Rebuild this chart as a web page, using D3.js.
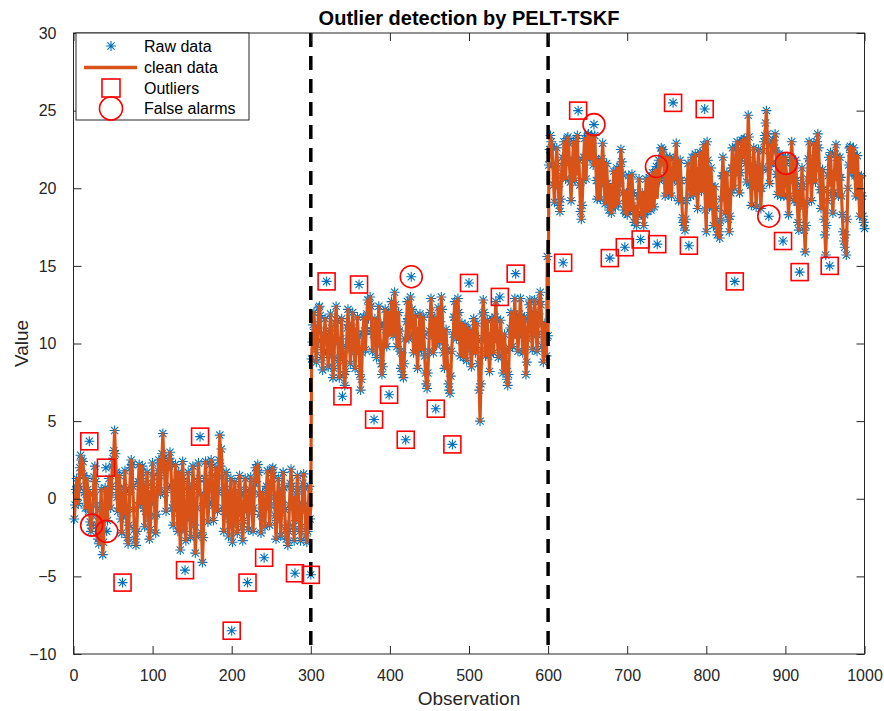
<!DOCTYPE html>
<html>
<head>
<meta charset="utf-8">
<script src="https://cdn.jsdelivr.net/npm/d3@7"></script>
<style>
  body { margin: 0; background: #fff; }
  svg { display: block; font-family: "Liberation Sans", Arial, Helvetica, sans-serif; }
</style>
</head>
<body>
<svg id="chart" width="884" height="711"></svg>
<script>
// ---------------- DATA ----------------
// Raw observations, segment 1 (obs 1..300)
const rawSeg1 = [
-1.3,-0.4,0.6,1.3,0.7,-0.3,0.8,2.0,2.8,2.5,1.6,2.4,1.5,0.4,-0.6,0.3,1.3,0.6,-0.8,3.7,
-1.5,-2.1,-1.7,-1.1,0.3,1.4,2.1,1.1,-0.4,-1.7,-2.6,-2.9,-2.2,-0.7,0.6,-1.9,-3.6,-2.8,-1.1,0.7,
2.0,-2.1,-1.4,0.3,1.3,0.4,-0.6,0.8,2.1,2.6,3.1,4.4,2.9,1.7,0.1,-0.8,0.6,1.5,0.3,-1.3,
-2.2,-5.4,-1.0,0.7,1.8,0.6,-1.1,-2.5,-2.9,-1.7,0.4,2.0,2.5,2.2,0.8,-0.7,-2.0,-2.6,-3.0,-2.1,
-0.4,1.1,2.2,1.0,-0.3,1.3,2.1,0.8,-0.6,-1.8,-0.8,0.7,1.7,0.3,-1.3,-2.6,-2.0,-0.3,1.0,2.3,
1.4,0.1,-1.1,-2.2,-1.0,0.6,1.8,2.5,1.5,0.3,2.2,2.9,4.2,2.6,2.0,0.4,-0.8,0.7,2.3,2.6,
2.1,3.0,2.4,0.8,-0.6,-1.7,-0.4,1.1,2.2,1.0,-0.7,-2.1,1.7,-1.1,-3.3,-1.4,1.3,2.4,1.1,-2.1,
-4.6,-2.7,-0.8,0.7,1.7,0.4,-1.3,-2.5,-1.1,0.6,2.1,0.8,-1.7,-3.5,-2.4,-0.6,1.1,2.3,1.3,4.0,
0.3,-2.2,-4.1,-2.5,-0.3,1.3,2.4,1.1,-0.4,-1.5,-0.3,1.0,2.2,2.5,1.5,-0.1,-1.4,-0.4,0.8,2.0,
0.7,-0.8,0.4,2.5,4.1,2.1,3.2,1.4,-0.6,-2.1,-0.8,0.6,1.7,0.4,-1.1,-2.4,-1.3,0.3,1.3,-8.5,
-2.8,-1.7,0.1,1.1,-0.1,-1.3,-2.2,-1.0,0.4,1.5,0.6,-0.7,-1.8,-2.7,-1.4,0.3,1.3,0.1,-0.8,-5.4,
-2.0,-0.7,0.6,1.4,0.4,-0.8,-2.1,-0.6,1.0,2.0,1.1,1.8,2.2,1.7,0.3,-1.0,-2.2,-1.1,0.4,-0.7,
-3.8,-1.8,-0.3,0.8,1.8,0.7,-0.6,-1.7,-0.4,1.1,1.9,2.0,1.5,0.1,-1.1,-2.6,-1.4,0.3,1.3,0.1,
-1.1,-2.4,-0.8,0.6,1.7,0.7,-0.7,-2.0,-2.6,-1.7,-3.0,-2.1,-0.4,1.0,1.9,0.8,-0.6,-1.8,-2.7,-4.8,
-1.4,0.3,1.5,0.6,-0.8,-2.1,-2.7,-1.8,-0.3,1.0,1.6,0.7,-0.8,-2.4,-2.8,-2.1,-0.4,0.8,-1.3,-4.9
];
// segment 2 (obs 301..600)
const rawSeg2 = [
9.0,10.1,11.2,12.0,10.9,9.6,8.8,9.9,11.0,12.3,12.4,11.8,10.2,9.1,8.3,9.4,10.6,11.6,10.5,14.0,
9.5,8.5,9.6,10.8,11.9,11.0,9.2,7.8,8.4,10.1,11.3,12.4,11.5,10.2,8.9,7.8,9.1,10.3,11.6,6.6,
9.4,8.0,7.3,8.2,9.8,11.0,12.2,11.2,9.9,8.7,9.7,11.0,12.0,10.8,9.5,8.4,9.5,10.6,11.7,10.5,
13.8,8.0,7.0,7.7,9.4,10.6,11.7,10.8,9.6,10.8,11.9,12.8,11.6,12.5,13.0,12.4,10.8,9.5,10.6,5.1,
11.6,10.3,9.1,10.2,11.3,12.4,11.2,9.9,8.7,8.0,8.5,9.9,11.2,12.2,10.9,9.8,10.9,12.0,6.7,10.8,
11.9,12.7,11.7,10.5,12.0,13.3,12.5,11.0,9.8,10.9,12.0,10.8,9.5,8.4,9.4,8.0,7.8,8.7,10.3,3.8,
11.4,12.7,11.6,10.3,11.3,13.0,14.3,12.2,10.6,9.4,10.5,11.8,10.6,9.5,8.4,9.6,10.8,11.9,10.8,9.6,
10.6,11.7,10.5,9.2,8.1,7.4,7.1,8.1,9.5,10.8,12.0,12.9,11.7,10.5,9.4,10.5,11.6,5.8,9.9,11.2,
12.3,11.2,10.1,11.4,13.0,12.2,10.6,9.4,8.4,9.7,10.9,9.6,8.5,7.4,7.0,6.8,7.9,9.5,3.5,10.6,
11.7,12.7,11.5,10.3,11.9,12.9,12.0,10.5,9.2,10.2,11.3,10.2,9.1,10.1,11.2,10.1,8.9,9.9,11.0,13.9,
10.8,9.6,8.5,9.5,10.6,11.6,10.5,9.4,10.3,11.3,10.2,8.7,7.0,5.0,7.4,9.6,11.9,12.8,12.0,10.5,
9.2,10.3,11.5,10.3,9.2,8.2,9.4,10.5,11.6,10.5,9.4,10.6,11.7,12.7,11.5,10.2,9.1,10.3,13.0,11.5,
10.3,9.2,8.1,9.4,10.6,9.5,8.4,7.7,7.3,8.0,9.7,11.0,12.0,10.9,9.8,10.8,11.9,12.9,14.5,11.7,
10.6,9.5,10.8,11.9,12.9,11.7,10.5,9.4,10.6,11.7,10.5,8.0,8.8,10.3,11.5,12.5,12.8,12.0,10.8,9.6,
10.8,12.0,12.8,11.9,10.6,9.5,10.6,11.9,12.7,13.3,12.5,11.2,9.8,8.8,10.1,11.3,10.2,9.2,15.6,10.5
];
// segment 3 (obs 601..1000)
const rawSeg3 = [
21.5,22.5,23.4,23.0,22.7,21.5,20.2,19.1,20.4,21.6,22.6,21.3,20.1,18.9,18.5,19.3,20.8,22.0,15.2,23.0,
21.9,20.6,21.9,23.2,23.3,22.9,21.6,20.4,19.2,20.5,21.8,23.0,21.8,20.5,21.8,23.2,23.4,25.0,21.8,20.2,
18.5,18.0,18.9,20.5,22.0,23.2,22.0,20.6,22.0,23.4,23.5,23.0,21.9,23.1,23.4,22.9,21.5,24.1,23.4,21.9,
20.5,19.3,20.5,21.8,20.6,19.3,20.6,21.9,22.9,21.6,20.3,19.0,20.3,21.6,20.3,19.2,18.6,15.5,19.0,18.4,
18.8,20.0,21.1,20.0,18.8,20.1,21.3,20.1,19.0,20.3,21.4,22.5,21.7,20.9,19.7,18.6,16.2,18.4,19.7,18.3,
19.7,20.8,19.7,18.6,19.7,20.9,19.7,18.5,17.8,18.8,18.0,17.6,18.3,19.5,20.6,19.5,16.7,18.3,19.7,18.5,
17.6,18.3,19.5,20.6,19.5,18.5,19.6,20.7,19.7,18.6,19.9,21.0,20.0,18.8,20.1,21.2,21.4,16.4,20.7,21.8,
20.5,21.6,22.6,22.4,22.5,21.9,20.6,19.5,20.8,22.0,20.9,19.7,20.9,22.0,20.8,19.5,20.8,25.5,21.9,20.6,
21.8,22.9,21.6,20.4,19.2,20.5,21.8,20.5,19.2,18.1,17.8,17.6,17.3,18.0,19.2,20.5,21.6,16.3,20.6,19.5,
20.8,22.0,20.9,19.6,20.9,22.2,21.0,19.8,18.7,19.9,21.2,22.3,21.1,19.8,21.1,22.3,22.8,25.1,18.6,17.2,
23.0,21.8,20.2,18.8,20.1,21.3,20.1,18.8,17.6,18.8,20.1,18.7,17.5,17.0,17.6,17.2,16.8,17.9,19.3,20.8,
22.0,20.8,19.5,18.4,19.7,21.0,19.7,18.0,17.2,18.2,19.7,21.3,22.6,21.3,20.0,14.0,21.3,22.6,23.0,22.4,
21.0,19.7,21.0,22.3,23.1,22.0,23.1,23.2,22.9,21.6,20.4,22.0,24.7,23.3,21.5,20.2,18.9,20.2,21.5,22.6,
21.4,20.1,18.8,20.1,21.4,22.5,21.3,20.0,18.7,20.0,21.3,22.4,23.0,23.4,24.2,25.0,23.5,21.2,18.2,20.3,
21.6,22.8,21.6,23.0,23.1,22.6,23.5,22.4,20.9,19.6,20.9,22.2,20.9,19.5,20.8,22.0,16.6,19.5,20.8,22.0,
21.6,20.8,19.5,18.3,19.5,20.8,22.0,23.0,21.8,20.5,19.2,20.5,21.8,20.5,19.1,17.8,17.3,14.6,18.9,20.1,
21.3,20.1,18.8,17.3,15.9,17.6,19.1,20.6,21.9,23.0,21.8,20.5,19.2,20.5,21.8,22.9,21.6,20.4,21.6,23.0,
23.5,22.6,21.2,19.9,18.7,19.9,21.2,19.9,18.0,17.0,15.7,17.6,19.2,20.8,22.0,15.0,22.3,21.0,19.7,18.4,
19.7,21.0,22.2,22.8,22.0,20.7,19.5,20.7,22.0,20.7,19.5,18.3,17.2,16.6,16.2,17.0,15.7,18.0,20.0,21.5,
22.6,22.7,22.3,21.0,22.3,22.6,22.1,20.8,19.5,20.8,22.1,20.8,19.5,18.2,19.5,20.8,19.5,18.2,17.8,17.4
];
// Detected outliers (observation index) and the cleaned value that replaces them
const outlierObs = [20,41,62,141,160,200,220,241,280,300,
  320,340,361,380,399,420,458,479,500,539,559,
  619,638,678,697,717,738,758,778,798,836,897,918,956];
const outlierClean = [0.5,-0.2,0.3,-0.6,0.4,-0.3,0.2,-0.4,0.1,-0.5,
  10.4,9.8,10.2,9.9,10.5,10.1,9.7,10.3,10.6,10.0,10.4,
  20.6,20.9,20.2,19.8,19.5,19.4,20.5,19.9,20.3,20.1,20.4,19.8,20.2];
// False alarms (observation index) and their cleaned value
const falseAlarmObs = [23,42,427,658,737,879,901];
const falseAlarmClean = [-1.2,-0.8,11.6,22.6,20.2,20.4,21.1];
// Detected change points
const changePoints = [300,600];
// Axis ticks
const xTicks = [0,100,200,300,400,500,600,700,800,900,1000];
const yTicks = [-10,-5,0,5,10,15,20,25,30];
const legendLabels = ["Raw data","clean data","Outliers","False alarms"];

// ---------------- BUILD ----------------
const raw = rawSeg1.concat(rawSeg2, rawSeg3).map((v, i) => ({x: i + 1, y: v}));
const cleanMap = new Map();
outlierObs.forEach((o, i) => cleanMap.set(o, outlierClean[i]));
falseAlarmObs.forEach((o, i) => cleanMap.set(o, falseAlarmClean[i]));
const clean = raw.map(d => ({x: d.x, y: cleanMap.has(d.x) ? cleanMap.get(d.x) : d.y}));

const BLUE = "#0072BD", ORANGE = "#D95319", RED = "#FF0000", AX = "#262626";
const L = 73.5, R = 864.5, T = 33, B = 654;
const svg = d3.select("#chart");
svg.append("rect").attr("width", 884).attr("height", 711).attr("fill", "#fff");

const xs = d3.scaleLinear().domain([0, 1000]).range([L, R]);
const ys = d3.scaleLinear().domain([-10, 30]).range([B, T]);

function asterisk(cx, cy, r) {
  const d = r * 0.72;
  return `M${cx - r},${cy}L${cx + r},${cy}M${cx},${cy - r}L${cx},${cy + r}` +
         `M${cx - d},${cy - d}L${cx + d},${cy + d}M${cx - d},${cy + d}L${cx + d},${cy - d}`;
}

const plot = svg.append("g");
// raw asterisks
plot.append("g").selectAll("path").data(raw).join("path")
  .attr("d", d => asterisk(xs(d.x), ys(d.y), 5))
  .attr("stroke", BLUE).attr("stroke-width", 1.1).attr("fill", "none");
// clean line
plot.append("path").datum(clean)
  .attr("d", d3.line().x(d => xs(d.x)).y(d => ys(d.y)))
  .attr("fill", "none").attr("stroke", ORANGE).attr("stroke-width", 3.2)
  .attr("stroke-linejoin", "round");
// change points
plot.append("g").selectAll("line").data(changePoints).join("line")
  .attr("x1", d => xs(d)).attr("x2", d => xs(d))
  .attr("y1", ys(30)).attr("y2", ys(-10))
  .attr("stroke", "#000").attr("stroke-width", 3.5).attr("stroke-dasharray", "14,9");
// outliers squares
const rawAt = o => raw[o - 1].y;
plot.append("g").selectAll("rect").data(outlierObs).join("rect")
  .attr("x", d => xs(d) - 8.5).attr("y", d => ys(rawAt(d)) - 8.5)
  .attr("width", 17).attr("height", 17)
  .attr("fill", "none").attr("stroke", RED).attr("stroke-width", 1.6);
// false alarm circles
plot.append("g").selectAll("circle").data(falseAlarmObs).join("circle")
  .attr("cx", d => xs(d)).attr("cy", d => ys(rawAt(d))).attr("r", 11)
  .attr("fill", "none").attr("stroke", RED).attr("stroke-width", 1.6);

// axes
function styleAxis(g) {
  g.select(".domain").remove();
  g.selectAll("line").attr("stroke", AX).attr("stroke-width", 1);
  g.selectAll("text").attr("fill", AX).attr("font-size", 16);
}
svg.append("g").attr("transform", `translate(0,${B})`)
  .call(d3.axisBottom(xs).tickValues(xTicks).tickFormat(d3.format("d")).tickSizeInner(-8).tickSizeOuter(0).tickPadding(16))
  .call(styleAxis);
svg.append("g").attr("transform", `translate(0,${T})`)
  .call(d3.axisTop(xs).tickValues(xTicks).tickFormat("").tickSizeInner(-8).tickSizeOuter(0))
  .call(styleAxis);
svg.append("g").attr("transform", `translate(${L},0)`)
  .call(d3.axisLeft(ys).tickValues(yTicks).tickFormat(d3.format("d")).tickSizeInner(-8).tickSizeOuter(0).tickPadding(17))
  .call(styleAxis);
svg.append("g").attr("transform", `translate(${R},0)`)
  .call(d3.axisRight(ys).tickValues(yTicks).tickFormat("").tickSizeInner(-8).tickSizeOuter(0))
  .call(styleAxis);
// box
svg.append("rect").attr("x", L).attr("y", T).attr("width", R - L).attr("height", B - T)
  .attr("fill", "none").attr("stroke", AX).attr("stroke-width", 1);

// titles
svg.append("text").attr("x", (L + R) / 2).attr("y", 25).attr("text-anchor", "middle")
  .attr("font-size", 20).attr("font-weight", "bold").attr("fill", "#000")
  .text("Outlier detection by PELT-TSKF");
svg.append("text").attr("x", (L + R) / 2).attr("y", 705).attr("text-anchor", "middle")
  .attr("font-size", 19).attr("fill", AX).text("Observation");
svg.append("text").attr("transform", `translate(28,${(T + B) / 2}) rotate(-90)`)
  .attr("text-anchor", "middle").attr("font-size", 19).attr("fill", AX).text("Value");

// legend
const lg = svg.append("g");
lg.append("rect").attr("x", 76).attr("y", 33).attr("width", 173).attr("height", 87)
  .attr("fill", "#fff").attr("stroke", AX).attr("stroke-width", 1);
const rowsY = [46, 67.5, 88, 108.5];
lg.append("path").attr("d", asterisk(111, rowsY[0], 5))
  .attr("stroke", BLUE).attr("stroke-width", 1.1).attr("fill", "none");
lg.append("line").attr("x1", 84).attr("x2", 137).attr("y1", rowsY[1]).attr("y2", rowsY[1])
  .attr("stroke", ORANGE).attr("stroke-width", 3.5);
lg.append("rect").attr("x", 111 - 9).attr("y", rowsY[2] - 9).attr("width", 18).attr("height", 18)
  .attr("fill", "none").attr("stroke", RED).attr("stroke-width", 1.6);
lg.append("circle").attr("cx", 111).attr("cy", rowsY[3]).attr("r", 11.5)
  .attr("fill", "none").attr("stroke", RED).attr("stroke-width", 1.6);
lg.selectAll("text.lab").data(legendLabels).join("text").attr("class", "lab")
  .attr("x", 144).attr("y", (d, i) => rowsY[i]).attr("dy", "0.35em")
  .attr("font-size", 16).attr("fill", "#000").text(d => d);
</script>
</body>
</html>
